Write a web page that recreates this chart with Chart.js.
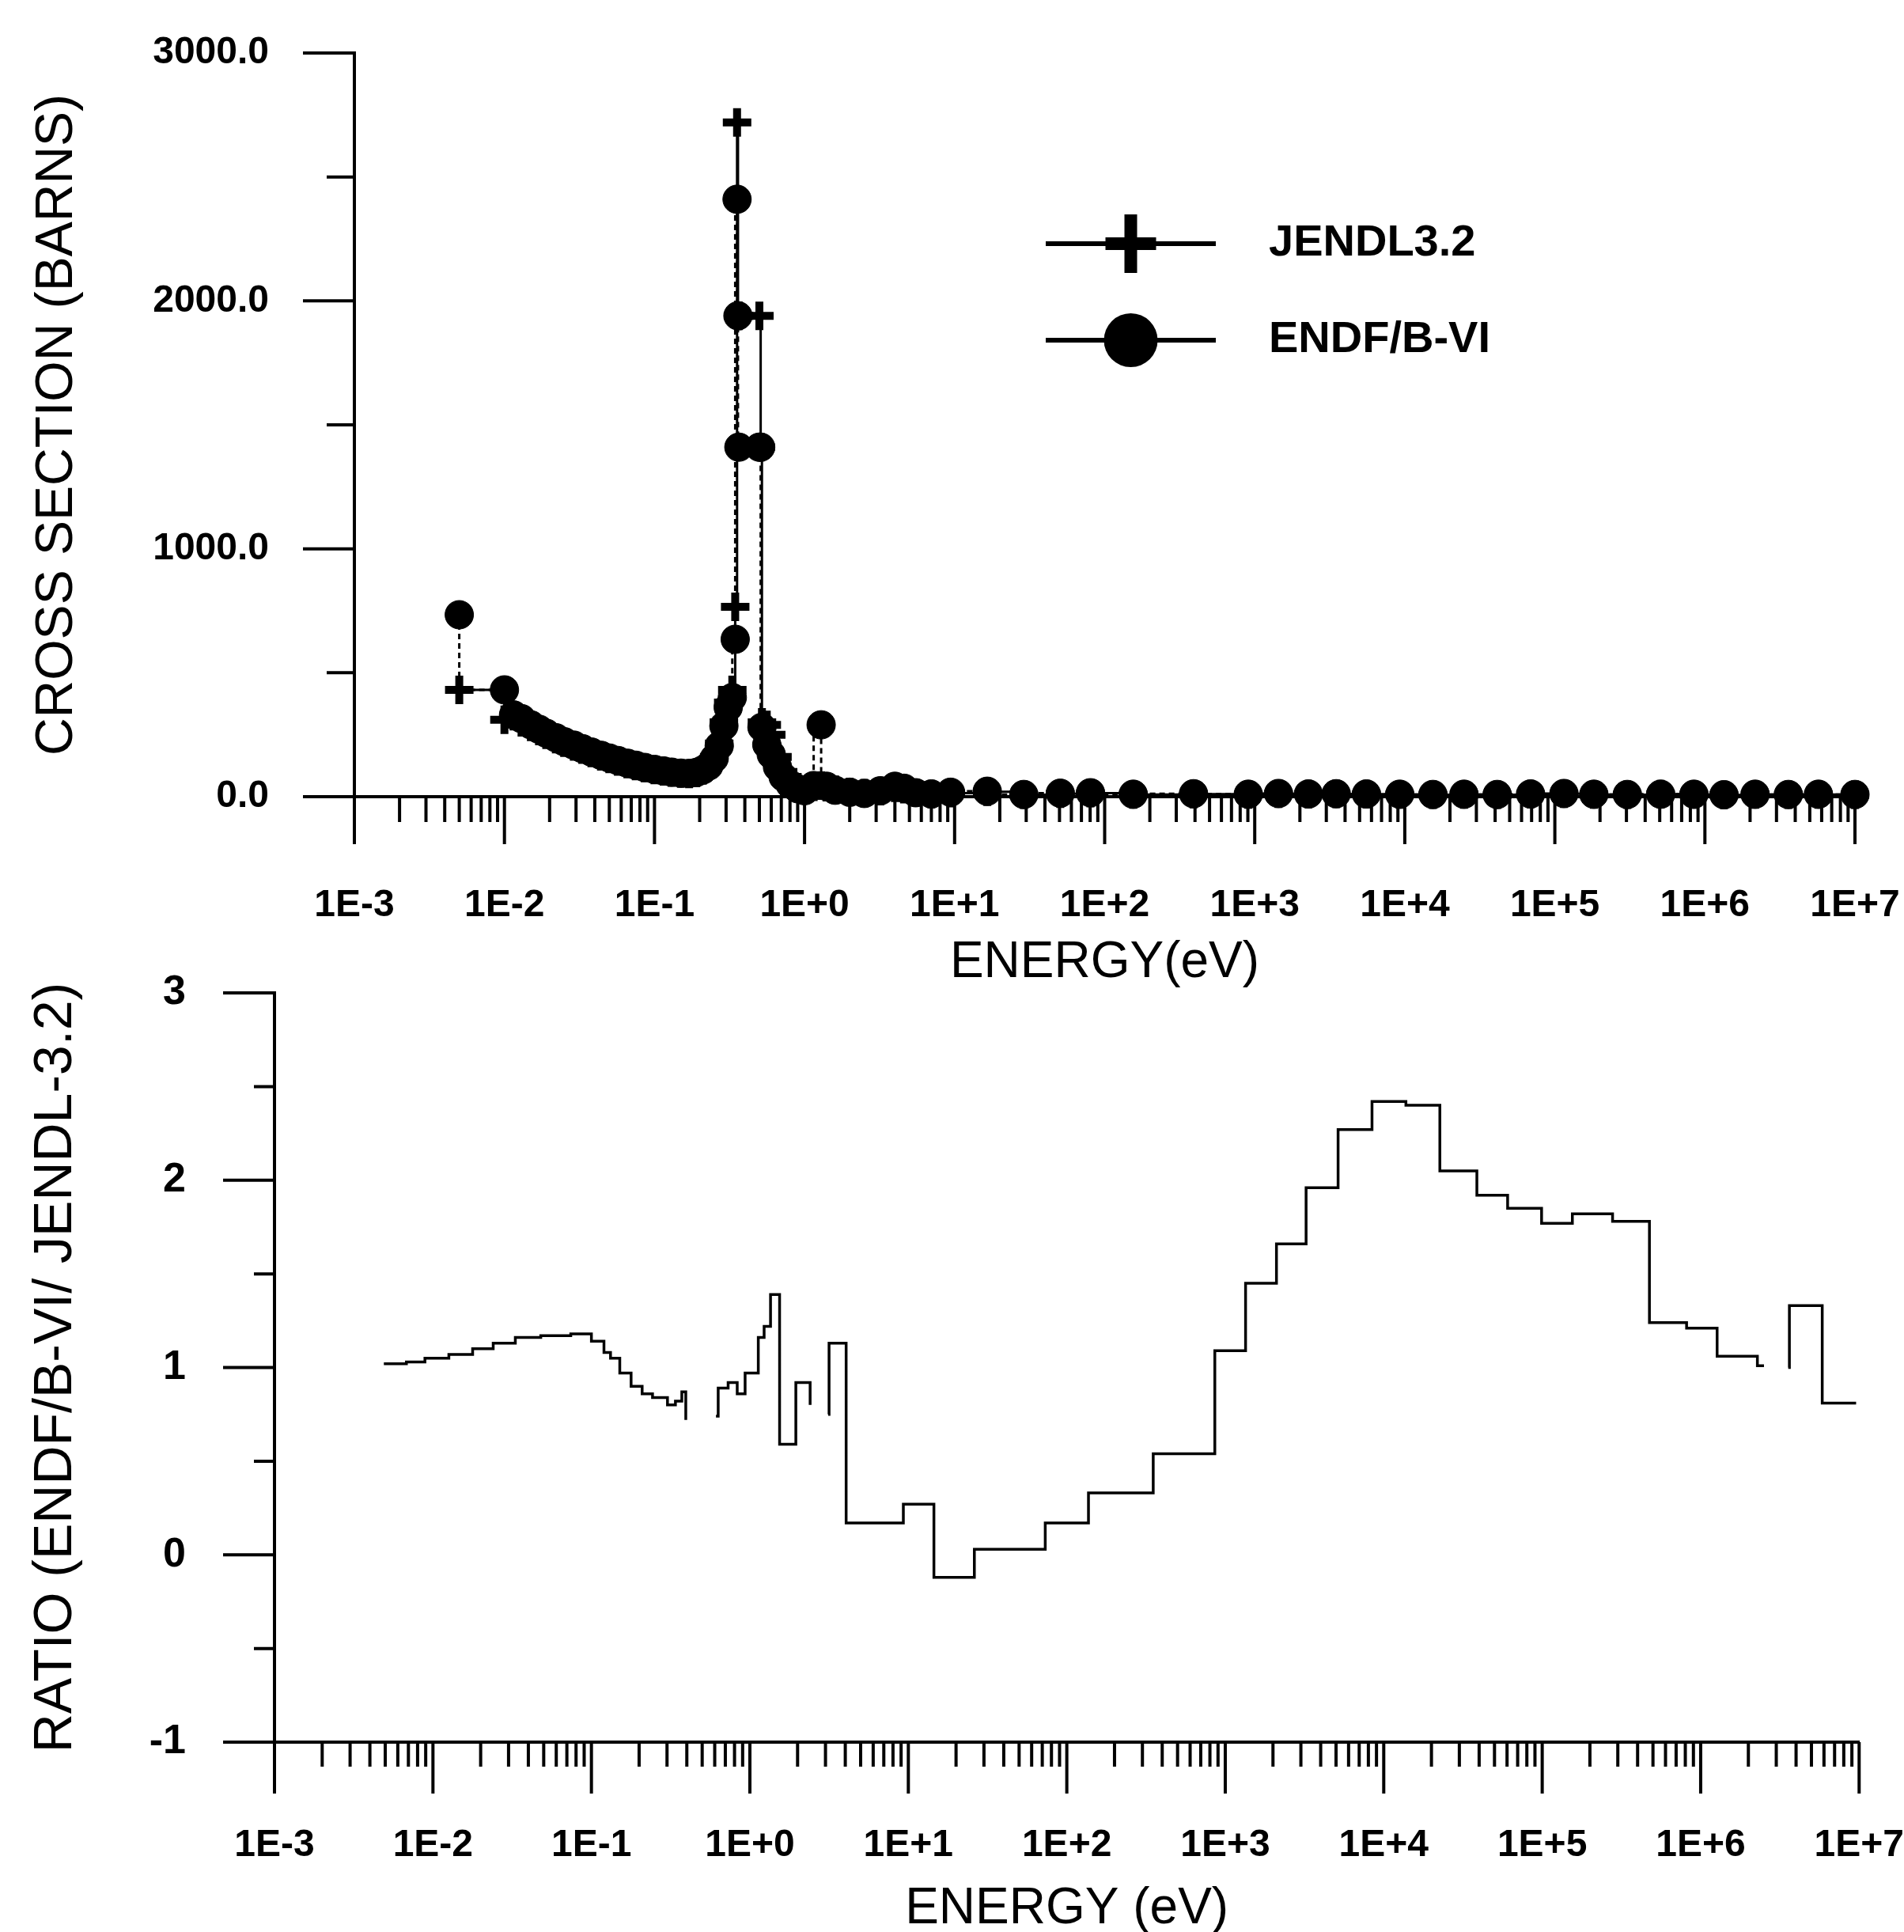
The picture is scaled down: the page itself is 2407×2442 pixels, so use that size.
<!DOCTYPE html>
<html>
<head>
<meta charset="utf-8">
<script src="https://cdn.jsdelivr.net/npm/chart.js@4.4.1/dist/chart.umd.min.js"></script>
<style>
  html, body { margin: 0; padding: 0; background: #fff; }
  body { width: 2407px; height: 2442px; position: relative; overflow: hidden; }
  .box { position: absolute; left: 0; width: 2407px; }
  #topBox { top: 0; height: 1256px; }
  #bottomBox { top: 1200px; height: 1262px; }
</style>
</head>
<body>
<div class="box" id="topBox"><canvas id="xsChart"></canvas></div>
<div class="box" id="bottomBox"><canvas id="ratioChart"></canvas></div>
<script>
// energies (eV) of the group points, top panel
const topEnergy = [
  0.005, 0.01, 0.0115, 0.013, 0.015, 0.017, 0.019, 0.022, 0.025, 0.029,
  0.033, 0.038, 0.044, 0.05, 0.057, 0.066, 0.075, 0.086, 0.1, 0.115,
  0.13, 0.15, 0.17, 0.19, 0.21, 0.23, 0.25, 0.27, 0.29, 0.31,
  0.33, 0.345, 0.355, 0.36, 0.365, 0.5, 0.51, 0.52, 0.56, 0.6,
  0.66, 0.72, 0.8, 0.9, 1.0, 1.15, 1.29, 1.4, 1.6, 2.0,
  2.5, 3.2, 4.0, 4.6, 5.5, 7.0, 9.4, 16.5, 28.9, 50.6,
  80.4, 155, 391, 906, 1440, 2280, 3490, 5550, 9250, 15400,
  24800, 41300, 68900, 115000, 182000, 304000, 507000, 845000, 1340000, 2160000,
  3600000, 5710000, 10000000
];
const jendlXS = [
  431, 310, 325, 300, 282, 265, 250, 232, 218, 203,
  190, 176, 163, 152, 142, 132, 124, 116, 108, 102,
  97, 93, 92, 96, 106, 125, 160, 215, 300, 380,
  431, 766, 2720, 1940, 1940, 1940, 1410, 300, 290, 250,
  160, 100, 60, 38, 28, 40, 45, 38, 28, 18,
  14, 22, 36, 30, 16, 10, 14, 20, 8, 12,
  14, 9, 10, 9, 12, 10, 11, 10, 9, 8,
  9, 8, 10, 12, 9, 8, 10, 9, 7, 9,
  8, 9, 8
];
const endfXS = [
  734, 431, 330, 315, 290, 272, 256, 238, 222, 208,
  194, 180, 167, 156, 146, 135, 127, 118, 110, 104,
  99, 95, 94, 98, 108, 124, 155, 205, 285, 360,
  400, 635, 2410, 1940, 1410, 1410, 1410, 280, 210, 170,
  120, 80, 50, 32, 24, 45, 290, 42, 26, 18,
  13, 24, 42, 34, 16, 11, 18, 22, 9, 14,
  16, 10, 12, 10, 13, 11, 12, 11, 10, 9,
  10, 9, 11, 13, 10, 9, 10, 10, 8, 10,
  9, 10, 9
];

// ratio ENDF/B-VI / JENDL-3.2, left edge of each step (null = gap)
const ratioEnergy = [
  0.0049, 0.0068, 0.0089, 0.0126, 0.0178, 0.024, 0.0331, 0.0479, 0.0741, 0.1,
  0.12, 0.132, 0.151, 0.178, 0.209, 0.243, 0.302, 0.339, 0.372, 0.394,
  0.407, 0.611, 0.631, 0.729, 0.832, 0.933, 1.13, 1.23, 1.35, 1.54,
  1.95, 2.4, 2.51, 3.12, 3.16, 4.05, 9.3, 14.5, 26.1, 73.1,
  137, 351, 859, 1343, 2104, 3236, 5152, 8433, 13800, 22600,
  38700, 60500, 99100, 155000, 278000, 475000, 815000, 1270000, 2280000, 2510000,
  2630000, 3570000, 3630000, 5850000, 9570000
];
const ratioValue = [
  1.02, 1.03, 1.05, 1.07, 1.10, 1.13, 1.16, 1.17, 1.18, 1.14,
  1.08, 1.05, 0.97, 0.90, 0.86, 0.84, 0.80, 0.82, 0.87, 0.72,
  null, 0.74, 0.89, 0.92, 0.86, 0.97, 1.16, 1.22, 1.39, 0.59,
  0.92, 0.80, null, 0.75, 1.13, 0.17, 0.27, -0.12, 0.03, 0.17,
  0.33, 0.54, 1.09, 1.45, 1.66, 1.96, 2.27, 2.42, 2.40, 2.05,
  1.92, 1.85, 1.77, 1.82, 1.78, 1.24, 1.21, 1.06, 1.01, 1.01,
  null, 1.0, 1.33, 0.81, 0.81
];

const xTickValues = [1e-3, 1e-2, 1e-1, 1, 10, 100, 1e3, 1e4, 1e5, 1e6, 1e7];
const xTickLabels = ['1E-3', '1E-2', '1E-1', '1E+0', '1E+1', '1E+2', '1E+3', '1E+4', '1E+5', '1E+6', '1E+7'];
const xsTickValues = [0, 1000, 2000, 3000];
const xsTickLabels = ['0.0', '1000.0', '2000.0', '3000.0'];
const ratioTickValues = [-1, 0, 1, 2, 3];
const ratioTickLabels = ['-1', '0', '1', '2', '3'];

const sans = "'Liberation Sans', Arial, sans-serif";
const clear = 'rgba(0,0,0,0)';

// log minor ticks hanging under the x axis, half steps on the y axis
const axisMarks = {
  id: 'axisMarks',
  afterDraw(chart, args, o) {
    const { ctx, chartArea: a, scales: { x, y } } = chart;
    ctx.save();
    ctx.strokeStyle = '#000';
    ctx.lineWidth = o.width;
    ctx.beginPath();
    ctx.moveTo(a.left, a.bottom);
    ctx.lineTo(a.left, a.bottom + o.xMajor);
    const d0 = Math.round(Math.log10(x.min)), d1 = Math.round(Math.log10(x.max));
    for (let d = d0; d <= d1; d++) {
      for (let k = 1; k <= 9; k++) {
        if (d === d1 && k > 1) break;
        const px = x.getPixelForValue(k * Math.pow(10, d));
        ctx.moveTo(px, a.bottom);
        ctx.lineTo(px, a.bottom + (k === 1 ? o.xMajor : o.xMinor));
      }
    }
    const n = Math.round((y.max - y.min) / o.yMinorStep);
    for (let i = 0; i <= n; i++) {
      const py = y.getPixelForValue(y.min + i * o.yMinorStep);
      ctx.moveTo(a.left, py);
      ctx.lineTo(a.left - (i % 2 === 0 ? o.yMajor : o.yMinor), py);
    }
    ctx.stroke();
    ctx.restore();
  }
};

// legend: line sample with the marker in the middle
const sampleLegend = {
  id: 'sampleLegend',
  afterDraw(chart, args, o) {
    if (!o.show) return;
    const ctx = chart.ctx;
    ctx.save();
    ctx.fillStyle = '#000';
    ctx.strokeStyle = '#000';
    chart.data.datasets.forEach((ds, i) => {
      const y = o.rows[i];
      const cx = (o.x0 + o.x1) / 2;
      ctx.setLineDash([]);
      ctx.lineWidth = 6;
      ctx.beginPath();
      ctx.moveTo(o.x0, y);
      ctx.lineTo(o.x1, y);
      ctx.stroke();
      if (ds.pointStyle === 'cross') {
        ctx.lineWidth = 16;
        ctx.beginPath();
        ctx.moveTo(cx, y - 37); ctx.lineTo(cx, y + 37);
        ctx.moveTo(cx - 32, y); ctx.lineTo(cx + 32, y);
        ctx.stroke();
      } else {
        ctx.beginPath();
        ctx.arc(cx, y, 34, 0, Math.PI * 2);
        ctx.fill();
      }
      ctx.font = 'bold 56px ' + sans;
      ctx.textBaseline = 'middle';
      ctx.textAlign = 'left';
      ctx.fillText(ds.label, o.textX, y);
    });
    ctx.restore();
  }
};

Chart.register(axisMarks, sampleLegend);

// label offsets are made with invisible tick marks, so the edge padding stays small
function xAxis(title, height, offset, titlePad) {
  return {
    type: 'logarithmic',
    position: 'bottom',
    min: 1e-3,
    max: 1e7,
    afterBuildTicks: (s) => { s.ticks = xTickValues.map(v => ({ value: v })); },
    afterFit: (s) => { s.height = height; },
    grid: { drawOnChartArea: false, drawTicks: true, tickLength: offset, tickColor: clear },
    border: { display: true, color: '#000', width: 4 },
    ticks: {
      autoSkip: false, maxRotation: 0, padding: 0, color: '#000',
      font: { family: sans, size: 48, weight: 'bold' },
      callback: (v, i) => xTickLabels[i]
    },
    title: {
      display: true, text: title, color: '#000',
      font: { family: sans, size: 64 }, padding: { top: 0, bottom: titlePad }
    }
  };
}

function yAxis(min, max, values, labels, width, offset, size, title, titleSize, titlePad) {
  return {
    min: min,
    max: max,
    afterBuildTicks: (s) => { s.ticks = values.map(v => ({ value: v })); },
    afterFit: (s) => { s.width = width; },
    grid: { drawOnChartArea: false, drawTicks: true, tickLength: offset, tickColor: clear },
    border: { display: true, color: '#000', width: 4 },
    ticks: {
      padding: 0, color: '#000',
      font: { family: sans, size: size, weight: 'bold' },
      callback: (v, i) => labels[i]
    },
    title: {
      display: true, text: title, color: '#000',
      font: { family: sans, size: titleSize }, padding: { top: titlePad, bottom: 0 }
    }
  };
}

new Chart(document.getElementById('xsChart'), {
  type: 'line',
  data: {
    datasets: [
      {
        label: 'JENDL3.2',
        data: topEnergy.map((e, i) => ({ x: e, y: jendlXS[i] })),
        borderColor: '#000',
        borderWidth: 3,
        stepped: 'before',
        pointStyle: 'cross',
        pointRadius: 18,
        pointBorderWidth: 10,
        pointBorderColor: '#000',
        pointBackgroundColor: '#000',
        clip: false
      },
      {
        label: 'ENDF/B-VI',
        data: topEnergy.map((e, i) => ({ x: e, y: endfXS[i] })),
        borderColor: '#000',
        borderWidth: 3,
        borderDash: [7, 5],
        stepped: 'after',
        pointStyle: 'circle',
        pointRadius: 18,
        pointBorderWidth: 1,
        pointBorderColor: '#000',
        pointBackgroundColor: '#000',
        clip: false
      }
    ]
  },
  options: {
    responsive: true,
    maintainAspectRatio: false,
    devicePixelRatio: 1,
    animation: false,
    layout: { padding: { top: 67, right: 62, left: 0, bottom: 0 } },
    scales: {
      x: xAxis('ENERGY(eV)', 249, 109, 0),
      y: yAxis(0, 3000, xsTickValues, xsTickLabels, 448, 108, 48, 'CROSS SECTION (BARNS)', 66, 33)
    },
    plugins: {
      legend: { display: false },
      tooltip: { enabled: false },
      axisMarks: { width: 4, xMajor: 60, xMinor: 32, yMajor: 65, yMinor: 35, yMinorStep: 500 },
      sampleLegend: { show: true, x0: 1322, x1: 1537, rows: [308, 430], textX: 1604 }
    }
  }
});

new Chart(document.getElementById('ratioChart'), {
  type: 'line',
  data: {
    datasets: [
      {
        label: 'RATIO',
        data: ratioEnergy.map((e, i) => ({ x: e, y: ratioValue[i] })),
        borderColor: '#000',
        borderWidth: 3.5,
        stepped: true,
        spanGaps: false,
        pointRadius: 0
      }
    ]
  },
  options: {
    responsive: true,
    maintainAspectRatio: false,
    devicePixelRatio: 1,
    animation: false,
    layout: { padding: { top: 55, right: 50, left: 0, bottom: 0 } },
    scales: {
      x: xAxis('ENERGY (eV)', 260, 102, 10),
      y: yAxis(-1, 3, ratioTickValues, ratioTickLabels, 347, 112, 52, 'RATIO (ENDF/B-VI/ JENDL-3.2)', 68, 30)
    },
    plugins: {
      legend: { display: false },
      tooltip: { enabled: false },
      axisMarks: { width: 4, xMajor: 65, xMinor: 31, yMajor: 65, yMinor: 26, yMinorStep: 0.5 },
      sampleLegend: { show: false }
    }
  }
});
</script>
</body>
</html>
